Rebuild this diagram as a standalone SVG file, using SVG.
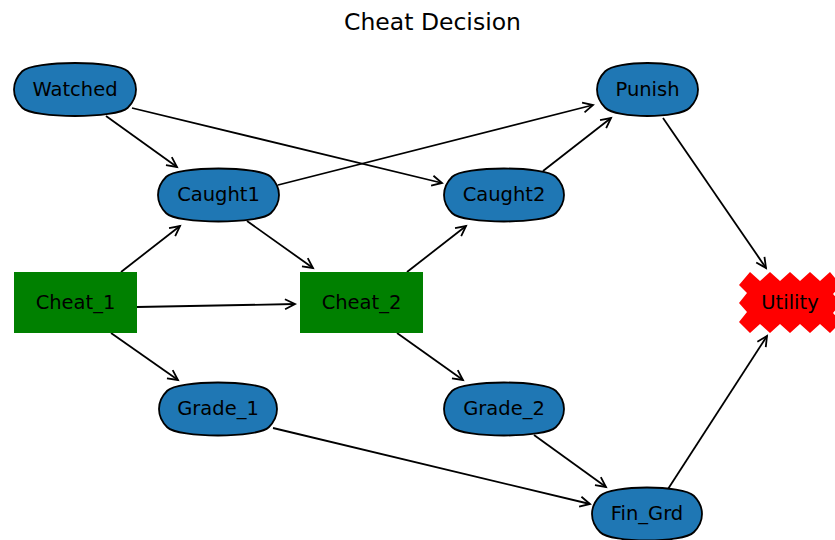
<svg xmlns="http://www.w3.org/2000/svg" width="835" height="540" viewBox="0 0 835 540">
<style>
  .lbl { font-family: "DejaVu Sans", sans-serif; font-size: 19.5px; fill: #000; text-anchor: middle; }
  .title { font-family: "DejaVu Sans", sans-serif; font-size: 23.5px; fill: #000; text-anchor: middle; }
  .chance { fill: #1f77b4; stroke: #000; stroke-width: 1.8; }
  .decision { fill: #008000; }
  .utility { fill: #ff0000; }
  .edge { fill: none; stroke: #000; stroke-width: 1.8; marker-end: url(#ah); }
</style>
<defs>
  <marker id="ah" markerUnits="userSpaceOnUse" markerWidth="20" markerHeight="20" refX="0" refY="0" orient="auto" overflow="visible">
    <path d="M-10,-5 L0,0 L-10,5" fill="none" stroke="#000" stroke-width="1.8"/>
  </marker>
</defs>
<rect width="835" height="540" fill="#fff"/>
<text class="title" x="432.5" y="30">Cheat Decision</text>

<g id="edges">
  <line class="edge" x1="106" y1="116" x2="177" y2="167"/>
  <line class="edge" x1="132" y1="108" x2="442" y2="183"/>
  <line class="edge" x1="278" y1="185" x2="593" y2="105"/>
  <line class="edge" x1="247" y1="221" x2="313" y2="268"/>
  <line class="edge" x1="121" y1="272" x2="180" y2="226"/>
  <line class="edge" x1="137" y1="307" x2="295" y2="304"/>
  <line class="edge" x1="111" y1="333" x2="178" y2="380"/>
  <line class="edge" x1="407" y1="272" x2="466" y2="226"/>
  <line class="edge" x1="397" y1="333" x2="463" y2="380"/>
  <line class="edge" x1="543" y1="171" x2="611" y2="118"/>
  <line class="edge" x1="273" y1="428" x2="590" y2="504"/>
  <line class="edge" x1="534" y1="435" x2="606" y2="487"/>
  <line class="edge" x1="663" y1="118" x2="766" y2="268"/>
  <line class="edge" x1="668" y1="489" x2="767" y2="336"/>
</g>

<g id="Watched" transform="translate(75,89.5)">
  <path class="chance" d="M-52.75,-18.25 C-41.75,-29.25 41.75,-29.25 52.75,-18.25 C63.75,-7.25 63.75,7.25 52.75,18.25 C41.75,29.25 -41.75,29.25 -52.75,18.25 C-63.75,7.25 -63.75,-7.25 -52.75,-18.25Z"/>
  <text class="lbl" x="0" y="6">Watched</text>
</g>
<g id="Caught1" transform="translate(218.5,195)">
  <path class="chance" d="M-52.25,-18.25 C-41.25,-29.25 41.25,-29.25 52.25,-18.25 C63.25,-7.25 63.25,7.25 52.25,18.25 C41.25,29.25 -41.25,29.25 -52.25,18.25 C-63.25,7.25 -63.25,-7.25 -52.25,-18.25Z"/>
  <text class="lbl" x="0" y="6">Caught1</text>
</g>
<g id="Caught2" transform="translate(504,195)">
  <path class="chance" d="M-51.75,-18.25 C-40.75,-29.25 40.75,-29.25 51.75,-18.25 C62.75,-7.25 62.75,7.25 51.75,18.25 C40.75,29.25 -40.75,29.25 -51.75,18.25 C-62.75,7.25 -62.75,-7.25 -51.75,-18.25Z"/>
  <text class="lbl" x="0" y="6">Caught2</text>
</g>
<g id="Punish" transform="translate(647.5,89.5)">
  <path class="chance" d="M-42.25,-18.25 C-31.25,-29.25 31.25,-29.25 42.25,-18.25 C53.25,-7.25 53.25,7.25 42.25,18.25 C31.25,29.25 -31.25,29.25 -42.25,18.25 C-53.25,7.25 -53.25,-7.25 -42.25,-18.25Z"/>
  <text class="lbl" x="0" y="6">Punish</text>
</g>
<g id="Cheat_1">
  <rect class="decision" x="14" y="272" width="123" height="61"/>
  <text class="lbl" x="75.5" y="308.5">Cheat_1</text>
</g>
<g id="Cheat_2">
  <rect class="decision" x="300" y="272" width="123" height="61"/>
  <text class="lbl" x="361.5" y="308.5">Cheat_2</text>
</g>
<g id="Utility">
  <polygon class="utility" points="739,285 750,272 760,281 770,272 780,281 790,272 800,281 810,272 820,281 830,272 841,285 833,294 841,303 833,313 841,322 830,333 820,324 810,333 800,324 790,333 780,324 770,333 760,324 750,333 739,322 747,312 739,303 747,293"/>
  <text class="lbl" x="790" y="308.5">Utility</text>
</g>
<g id="Grade_1" transform="translate(218,409)">
  <path class="chance" d="M-50.75,-18.25 C-39.75,-29.25 39.75,-29.25 50.75,-18.25 C61.75,-7.25 61.75,7.25 50.75,18.25 C39.75,29.25 -39.75,29.25 -50.75,18.25 C-61.75,7.25 -61.75,-7.25 -50.75,-18.25Z"/>
  <text class="lbl" x="0" y="6">Grade_1</text>
</g>
<g id="Grade_2" transform="translate(504,409)">
  <path class="chance" d="M-51.75,-18.25 C-40.75,-29.25 40.75,-29.25 51.75,-18.25 C62.75,-7.25 62.75,7.25 51.75,18.25 C40.75,29.25 -40.75,29.25 -51.75,18.25 C-62.75,7.25 -62.75,-7.25 -51.75,-18.25Z"/>
  <text class="lbl" x="0" y="6">Grade_2</text>
</g>
<g id="Fin_Grd" transform="translate(647,514)">
  <path class="chance" d="M-46.75,-18.25 C-35.75,-29.25 35.75,-29.25 46.75,-18.25 C57.75,-7.25 57.75,7.25 46.75,18.25 C35.75,29.25 -35.75,29.25 -46.75,18.25 C-57.75,7.25 -57.75,-7.25 -46.75,-18.25Z"/>
  <text class="lbl" x="0" y="6">Fin_Grd</text>
</g>
</svg>
